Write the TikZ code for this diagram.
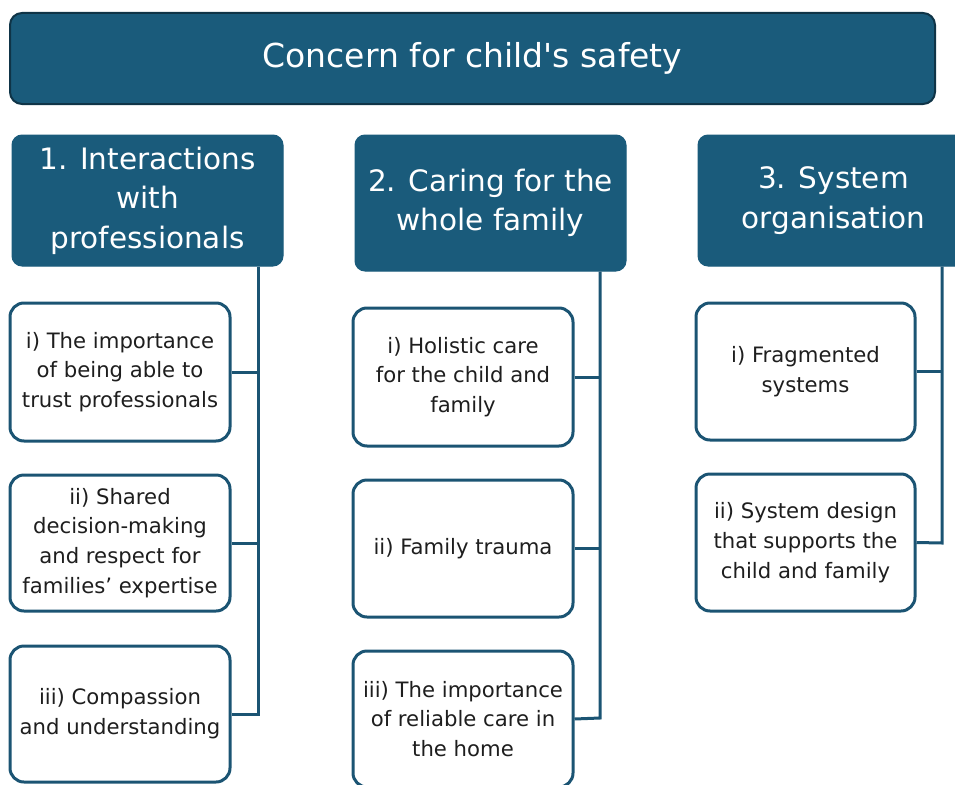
\documentclass[tikz,border=0pt]{standalone}
\usepackage{fontspec}
\setmainfont{DejaVu Sans}
\definecolor{teal1}{HTML}{1A5B7B}
\definecolor{tealedge}{HTML}{0F3447}
\definecolor{tealline}{HTML}{1B5473}
\definecolor{txt}{HTML}{1E1E1E}
\begin{document}
\begin{tikzpicture}[x=1pt,y=-1pt,
  banner/.style={rectangle,rounded corners=12pt,fill=teal1,draw=tealedge,line width=2pt,
    text=white,font=\fontsize{33}{40}\selectfont,inner sep=0pt},
  header/.style={rectangle,rounded corners=10pt,fill=teal1,draw=teal1,line width=1pt,
    text=white,align=center,font=\fontsize{29.5}{39.5}\selectfont,inner sep=0pt},
  item/.style={rectangle,rounded corners=14pt,fill=white,draw=tealline,line width=3pt,
    text=txt,align=center,font=\fontsize{21.2}{29.8}\selectfont,inner sep=0pt,
    minimum width=220pt},
  link/.style={draw=tealline,line width=3pt,line join=miter}]
\useasboundingbox (0,0) rectangle (955,784);
\clip (0,0) rectangle (955,784);

% title banner
\node[banner,minimum width=925pt,minimum height=91pt] (top) at (472.5,58.5) {Concern for child\textquotesingle s safety};

% theme headers
\node[header,minimum width=271pt,minimum height=131pt] (h1) at (147.5,200.5)
  {1. Interactions\\with\\professionals};
\node[header,minimum width=271pt,minimum height=136pt] (h2) at (490.5,203)
  {2. Caring for the\\whole family};
\node[header,minimum width=271pt,minimum height=131pt] (h3) at (833.5,200.5)
  {3. System\\organisation};

% sub-themes, column 1
\node[item,minimum height=138pt] (a1) at (120,372) {i) The importance\\of being able to\\trust professionals};
\node[item,minimum height=136pt] (a2) at (120,543) {ii) Shared\\decision-making\\and respect for\\families’ expertise};
\node[item,minimum height=136pt] (a3) at (120,714) {iii) Compassion\\and understanding};

% sub-themes, column 2
\node[item,minimum height=138pt] (b1) at (463,377) {i) Holistic care\\for the child and\\family};
\node[item,minimum height=137pt] (b2) at (463,548.5) {ii) Family trauma};
\node[item,minimum height=136pt] (b3) at (463,719) {iii) The importance\\of reliable care in\\the home};

% sub-themes, column 3
\node[item,minimum height=137pt,minimum width=219pt] (c1) at (805.5,371.5) {i) Fragmented\\systems};
\node[item,minimum height=137pt,minimum width=219pt] (c2) at (805.5,542.5) {ii) System design\\that supports the\\child and family};

% spine coordinates
\coordinate (s1) at (258,714);
\coordinate (s2) at (600,718);
\coordinate (s3) at (942,543);

% connectors: spine down from each header, ending in the last branch
\draw[link] (h1.south -| s1) -- (s1) -- (a3.east);
\draw[link] (a1.east) -- (a1.east -| s1);
\draw[link] (a2.east) -- (a2.east -| s1);

\draw[link] (h2.south -| s2) -- (s2) -- (b3.east);
\draw[link] (b1.east) -- (b1.east -| s2);
\draw[link] (b2.east) -- (b2.east -| s2);

\draw[link] (h3.south -| s3) -- (s3) -- (c2.east);
\draw[link] (c1.east) -- (c1.east -| s3);
\end{tikzpicture}
\end{document}
